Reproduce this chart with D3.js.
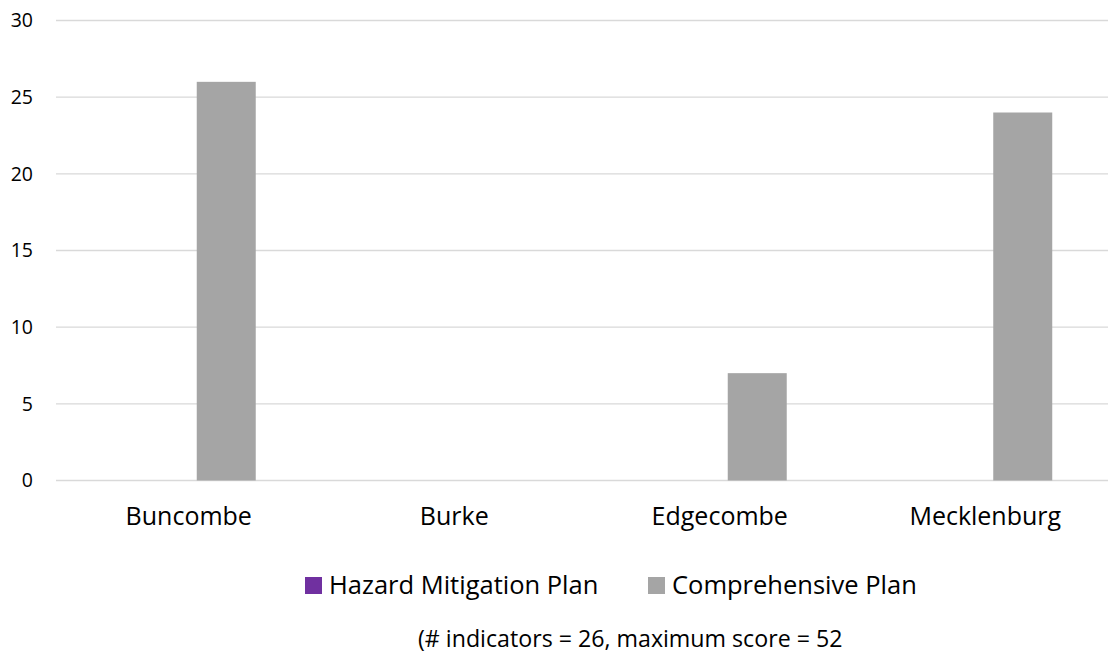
<!DOCTYPE html>
<html>
<head>
<meta charset="utf-8">
<script src="https://cdn.jsdelivr.net/npm/d3@7"></script>
<style>
  html, body { margin: 0; padding: 0; background: #fff; }
  svg { display: block; font-family: "Open Sans", sans-serif; }
</style>
</head>
<body>
<svg id="chart" width="1108" height="654"></svg>
<script>
// County scores by plan type
const counties = ["Buncombe", "Burke", "Edgecombe", "Mecklenburg"];
const seriesNames = ["Hazard Mitigation Plan", "Comprehensive Plan"];
const hazardMitigation = [0, 0, 0, 0];
const comprehensive = [26, 0, 7, 24];
const yTicks = [0, 5, 10, 15, 20, 25, 30];
const seriesColors = ["#7030A0", "#A5A5A5"];
const footnote = "(# indicators = 26, maximum score = 52";

const FONT = "'Open Sans', sans-serif";
const svg = d3.select("#chart");

const y = d3.scaleLinear().domain([0, 30]).range([480.5, 20.5]);
const x0 = d3.scaleBand().domain(counties).range([56, 1118]).padding(0);
const x1 = d3.scaleBand().domain(seriesNames)
  .range([0, x0.bandwidth()])
  .paddingInner(0.2133)
  .paddingOuter(0.877);

// horizontal gridlines
svg.append("g")
  .selectAll("line")
  .data(yTicks)
  .join("line")
  .attr("x1", 56).attr("x2", 1118)
  .attr("y1", d => y(d)).attr("y2", d => y(d))
  .attr("stroke", "#D9D9D9")
  .attr("stroke-width", 1.3);

// y axis labels
const yAxis = d3.axisLeft(y).tickValues(yTicks).tickSize(0).tickPadding(0);
svg.append("g")
  .attr("transform", "translate(33,0)")
  .call(yAxis)
  .call(g => g.select(".domain").remove())
  .call(g => g.selectAll("text")
    .attr("font-family", FONT)
    .attr("font-size", 19.5)
    .attr("fill", "#000"));

// bars
const rows = counties.map((c, i) => ({
  county: c,
  values: [
    { series: seriesNames[0], value: hazardMitigation[i], color: seriesColors[0] },
    { series: seriesNames[1], value: comprehensive[i], color: seriesColors[1] }
  ]
}));

svg.append("g")
  .selectAll("g")
  .data(rows)
  .join("g")
  .attr("transform", d => `translate(${x0(d.county)},0)`)
  .selectAll("rect")
  .data(d => d.values)
  .join("rect")
  .attr("x", d => x1(d.series))
  .attr("width", x1.bandwidth())
  .attr("y", d => y(d.value))
  .attr("height", d => y(0) - y(d.value))
  .attr("fill", d => d.color);

// category labels
const xAxis = d3.axisBottom(x0).tickSize(0).tickPadding(0);
svg.append("g")
  .attr("transform", "translate(0,507.5)")
  .call(xAxis)
  .call(g => g.select(".domain").remove())
  .call(g => g.selectAll("text")
    .attr("font-family", FONT)
    .attr("font-size", 25)
    .attr("fill", "#000"));

// legend
const legendItems = [
  { name: seriesNames[0], color: seriesColors[0], x: 305 },
  { name: seriesNames[1], color: seriesColors[1], x: 648 }
];
const legend = svg.append("g");
const li = legend.selectAll("g").data(legendItems).join("g")
  .attr("transform", d => `translate(${d.x},577)`);
li.append("rect").attr("width", 17).attr("height", 17).attr("fill", d => d.color);
li.append("text")
  .attr("x", 24).attr("y", 16.5)
  .attr("font-family", FONT)
  .attr("font-size", 25.5)
  .attr("fill", "#000")
  .text(d => d.name);

// footnote
svg.append("text")
  .attr("x", 418).attr("y", 647)
  .attr("font-family", FONT)
  .attr("font-size", 23.2)
  .attr("fill", "#000")
  .text(footnote);
</script>
</body>
</html>
